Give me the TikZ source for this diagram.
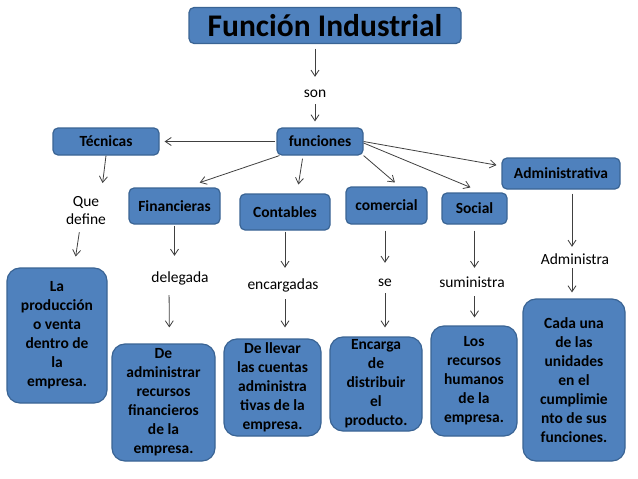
\documentclass[tikz,border=0pt]{standalone}
\usepackage{fontspec}
\setmainfont{Carlito}
\usetikzlibrary{arrows.meta,calc}

\definecolor{boxblue}{HTML}{4F81BD}
\definecolor{boxline}{HTML}{3A6494}
\definecolor{arrgray}{HTML}{404040}

\begin{document}
\begin{tikzpicture}[x=1pt, y=-1pt,
    box/.style = {draw=boxline, line width=1.2pt, fill=boxblue, rounded corners=5pt,
                  inner sep=0pt, align=center, font=\fontsize{15.5}{19}\selectfont\bfseries},
    bigbox/.style = {box, rounded corners=13pt},
    lbl/.style = {inner sep=0pt, align=center, text height=11.5pt, text depth=3.5pt,
                  font=\fontsize{15.5}{18}\selectfont},
    arr/.style = {draw=arrgray, line width=0.8pt, -{Straight Barb[length=6pt,width=8pt]}}]
          	 \useasboundingbox (0,0) rectangle (638,479);

          	 % top of the map
          	 \node[box, minimum width=272pt, minimum height=36pt, font=\fontsize{31.5}{36}\selectfont\bfseries] (title) at (325,25.5) {Función Industrial};
          	 \node[lbl] (son) at (315,93) {son};
          	 \node[box, minimum width=86pt, minimum height=27pt] (fun) at (320,141.5) {funciones};
          	 \node[box, minimum width=106pt, minimum height=27pt] (tec) at (106,141.5) {Técnicas};
          	 \node[box, minimum width=118pt, minimum height=31pt] (adm) at (561,173.5) {Administrativa};

          	 % second row
          	 \node[box, minimum width=91pt, minimum height=36pt] (fin) at (174.5,206) {Financieras};
          	 \node[box, minimum width=90pt, minimum height=36pt] (con) at (285,212) {Contables};
          	 \node[box, minimum width=81pt, minimum height=37pt] (com) at (386.5,205.5) {comercial};
          	 \node[box, minimum width=65pt, minimum height=31pt] (soc) at (474.5,208.5) {Social};

          	 % linking words
          	 \node[lbl] (que) at (86,220) {Que\\define};
          	 \node[lbl] (dele) at (180,278) {delegada};
          	 \node[lbl] (enc) at (283,285) {encargadas};
          	 \node[lbl] (se) at (385,282) {se};
          	 \node[lbl] (sum) at (472,283) {suministra};
          	 \node[lbl] (admi) at (575,260) {Administra};

          	 % bottom row
          	 \node[bigbox, minimum width=100pt, minimum height=135pt] (prod) at (57,335.5) {La\\producción\\o venta\\dentro de\\la\\empresa.};
          	 \node[bigbox, minimum width=103pt, minimum height=117pt] (finb) at (163.5,402.5) {De\\administrar\\recursos\\financieros\\de la\\empresa.};
          	 \node[bigbox, minimum width=97pt, minimum height=97pt] (conb) at (272.5,387.5) {De llevar\\las cuentas\\administra\\tivas de la\\empresa.};
          	 \node[bigbox, minimum width=92pt, minimum height=94pt] (comb) at (376,384) {Encarga\\de\\distribuir\\el\\producto.};
          	 \node[bigbox, minimum width=86pt, minimum height=110pt] (socb) at (474,381) {Los\\recursos\\humanos\\de la\\empresa.};
          	 \node[bigbox, minimum width=102pt, minimum height=162pt] (admb) at (574,380) {Cada una\\de las\\unidades\\en el\\cumplimie\\nto de sus\\funciones.};

          	 % connectors
          	 \draw[arr, shorten <=4.5pt, shorten >=8.5pt] (title.south -| son) -- (son.north);
          	 \draw[arr, shorten <=3.5pt, shorten >=6pt] (son.south) -- (son.south |- fun.north);
          	 \draw[arr, shorten <=1pt, shorten >=5pt] (fun.west) -- (tec.east);
          	 \draw[arr, shorten >=15pt] ([xshift=3pt]fun.south west) -- ([xshift=11pt]fin.north);
          	 \draw[arr, shorten <=3pt, shorten >=9pt] ([xshift=-17pt]fun.south) -- ([xshift=12pt]con.north);
          	 \draw[arr, shorten >=6pt] (fun.south east) -- ([xshift=13pt]com.north);
          	 \draw[arr, shorten >=13pt] ([yshift=-1.5pt]fun.east) -- ([xshift=8pt]soc.north);
          	 \draw[arr, shorten >=5pt] (fun.east) -- ([yshift=7.5pt]adm.west);

          	 \draw[arr, shorten >=29.5pt] (tec.south) -- ([xshift=13pt]que.north);
          	 \draw[arr, shorten <=4.5pt, shorten >=11pt] ([xshift=-6pt]que.south) -- ([xshift=17pt]prod.north);
          	 \draw[arr, shorten <=1pt, shorten >=14.5pt] (fin.south) -- (fin.south |- dele.north);
          	 \draw[arr, shorten <=9.5pt, shorten >=16pt] ([xshift=-11pt]dele.south) -- ([xshift=6pt]finb.north);
          	 \draw[arr, shorten <=1pt, shorten >=9.5pt] (con.south) -- (con.south |- enc.north);
          	 \draw[arr, shorten <=6.5pt, shorten >=11pt] (con.south |- enc.south) -- (con.south |- conb.north);
          	 \draw[arr, shorten <=6pt, shorten >=11.5pt] (com.south -| se) -- (se.north);
          	 \draw[arr, shorten <=3.5pt, shorten >=9pt] (se.south) -- (se.south |- comb.north);
          	 \draw[arr, shorten <=6pt, shorten >=7.5pt] (soc.south) -- (soc.south |- sum.north);
          	 \draw[arr, shorten <=5.5pt, shorten >=8pt] (soc.south |- sum.south) -- (soc.south |- socb.north);
          	 \draw[arr, shorten <=4pt, shorten >=5.5pt] ([xshift=11pt]adm.south) -- ([xshift=-3pt]admi.north);
          	 \draw[arr, shorten <=0.5pt, shorten >=6pt] ([xshift=-3pt]admi.south) -- ([xshift=-2pt]admb.north);
        \end{tikzpicture}
\end{document}
